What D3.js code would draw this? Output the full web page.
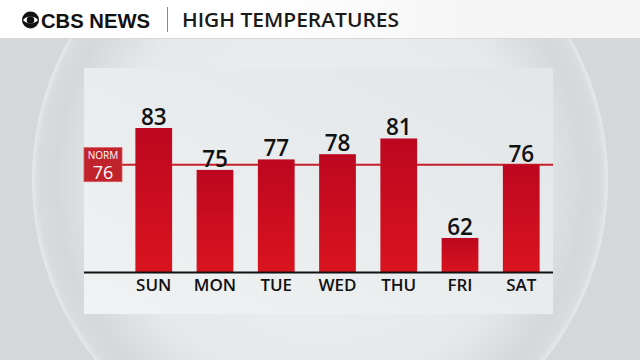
<!DOCTYPE html>
<html>
<head>
<meta charset="utf-8">
<title>High Temperatures</title>
<style>
body { margin: 0; background: #d4d8da; }
#chart { display: block; width: 640px; height: 360px; }
.val { font-family: "Open Sans", sans-serif; font-size: 22.5px; font-weight: 600; fill: #111; }
.day { font-family: "Open Sans", sans-serif; font-size: 17px; font-weight: 600; fill: #111; }
</style>
</head>
<body>

<svg id="chart" width="640" height="360"></svg>

<script src="https://d3js.org/d3.v7.min.js"></script>
<script>

const days = ["SUN", "MON", "TUE", "WED", "THU", "FRI", "SAT"];
const highs = [83, 75, 77, 78, 81, 62, 76];
const normalHigh = 76;
const title = "HIGH TEMPERATURES";

const svg = d3.select("#chart");
const defs = svg.append("defs");

// panel bounds
const panel = { left: 84, right: 553, top: 68, bottom: 314 };
const baseY = 272;

// scales
const x = d3.scaleBand()
  .domain(days)
  .range([117, 558])
  .paddingInner(0.4)
  .paddingOuter(0.3);

const y = d3.scaleLinear()
  .domain([55.5, 83])
  .range([baseY, 128]);

// gradients
const sphereGrad = defs.append("radialGradient").attr("id", "sphere");
[["0%", "#eef0f1"], ["72%", "#e6e9ea"], ["92%", "#d4d8da"], ["98%", "#d8dcde"], ["100%", "#e6e9ea"]]
  .forEach(s => sphereGrad.append("stop").attr("offset", s[0]).attr("stop-color", s[1]));

const panelGrad = defs.append("linearGradient").attr("id", "panel")
  .attr("x1", "100%").attr("y1", "0%").attr("x2", "0%").attr("y2", "100%");
panelGrad.append("stop").attr("offset", "0%").attr("stop-color", "#e2e6e8");
panelGrad.append("stop").attr("offset", "100%").attr("stop-color", "#f0f2f3");

const barGrad = defs.append("linearGradient").attr("id", "bar")
  .attr("x1", "0%").attr("y1", "0%").attr("x2", "0%").attr("y2", "100%");
barGrad.append("stop").attr("offset", "0%").attr("stop-color", "#bd0720");
barGrad.append("stop").attr("offset", "100%").attr("stop-color", "#d9141f");

const headGrad = defs.append("linearGradient").attr("id", "head");
headGrad.append("stop").attr("offset", "40%").attr("stop-color", "#ffffff");
headGrad.append("stop").attr("offset", "75%").attr("stop-color", "#f5f5f5");

// background + sphere
svg.append("rect").attr("width", 640).attr("height", 360).attr("fill", "#d4d8da");
svg.append("circle")
  .attr("cx", 320).attr("cy", 180).attr("r", 288)
  .attr("fill", "url(#sphere)");

// header bar
svg.append("rect").attr("width", 640).attr("height", 38).attr("fill", "url(#head)");
svg.append("line").attr("x1", 0).attr("x2", 640).attr("y1", 38.5).attr("y2", 38.5)
  .attr("stroke", "#d6d9da");

// cbs eye
const eye = svg.append("g").attr("transform", "translate(30.5,20)");
eye.append("circle").attr("r", 8.5).attr("fill", "#111");
eye.append("path").attr("d", "M-7.5,0 A10,10 0 0 1 7.5,0 A10,10 0 0 1 -7.5,0 Z").attr("fill", "#fff");
eye.append("circle").attr("r", 3.8).attr("fill", "#111");

svg.append("text")
  .attr("x", 41).attr("y", 27.5)
  .attr("textLength", 109).attr("lengthAdjust", "spacingAndGlyphs")
  .style("font-family", "'Liberation Sans', Arial, sans-serif")
  .style("font-weight", 700).style("font-size", "20px").style("fill", "#111")
  .text("CBS NEWS");

svg.append("line").attr("x1", 167.5).attr("x2", 167.5).attr("y1", 7).attr("y2", 32)
  .attr("stroke", "#8a8a8a");

svg.append("text")
  .attr("x", 182).attr("y", 27)
  .attr("textLength", 217).attr("lengthAdjust", "spacingAndGlyphs")
  .style("font-family", "'Open Sans', sans-serif")
  .style("font-weight", 600).style("font-size", "19px").style("fill", "#1a1a1a")
  .text(title);

// chart panel
svg.append("rect")
  .attr("x", panel.left).attr("y", panel.top)
  .attr("width", panel.right - panel.left).attr("height", panel.bottom - panel.top)
  .attr("fill", "url(#panel)");

// normal line
svg.append("line")
  .attr("x1", panel.left).attr("x2", panel.right)
  .attr("y1", y(normalHigh)).attr("y2", y(normalHigh))
  .attr("stroke", "#c81e2a").attr("stroke-width", 2);

// bars
svg.selectAll("rect.bar")
  .data(highs)
  .join("rect")
  .attr("class", "bar")
  .attr("x", (d, i) => x(days[i]))
  .attr("y", d => y(d))
  .attr("width", x.bandwidth())
  .attr("height", d => baseY - y(d))
  .attr("fill", "url(#bar)");

// value labels
svg.selectAll("text.val")
  .data(highs)
  .join("text")
  .attr("class", "val")
  .attr("x", (d, i) => x(days[i]) + x.bandwidth() / 2)
  .attr("y", d => y(d) - 3)
  .attr("text-anchor", "middle")
  .text(d => d);

// baseline
svg.append("line")
  .attr("x1", panel.left).attr("x2", panel.right)
  .attr("y1", baseY + 0.5).attr("y2", baseY + 0.5)
  .attr("stroke", "#111").attr("stroke-width", 2);

// day labels
svg.selectAll("text.day")
  .data(days)
  .join("text")
  .attr("class", "day")
  .attr("x", d => x(d) + x.bandwidth() / 2)
  .attr("y", 291)
  .attr("text-anchor", "middle")
  .text(d => d);

// normal tag
const tag = svg.append("g");
tag.append("rect")
  .attr("x", panel.left).attr("y", y(normalHigh) - 17)
  .attr("width", 38).attr("height", 34)
  .attr("fill", "#c0232b").attr("stroke", "#d65a5e").attr("stroke-width", 0.8);
tag.append("text")
  .attr("x", panel.left + 19).attr("y", y(normalHigh) - 6)
  .attr("text-anchor", "middle")
  .style("font-family", "'Open Sans', sans-serif").style("font-size", "10px")
  .style("font-weight", 500).style("fill", "#fff")
  .text("NORM");
tag.append("text")
  .attr("x", panel.left + 19).attr("y", y(normalHigh) + 14)
  .attr("text-anchor", "middle")
  .style("font-family", "'Open Sans', sans-serif").style("font-size", "18px")
  .style("font-weight", 500).style("fill", "#fff")
  .text(normalHigh);

</script>
</body>
</html>
